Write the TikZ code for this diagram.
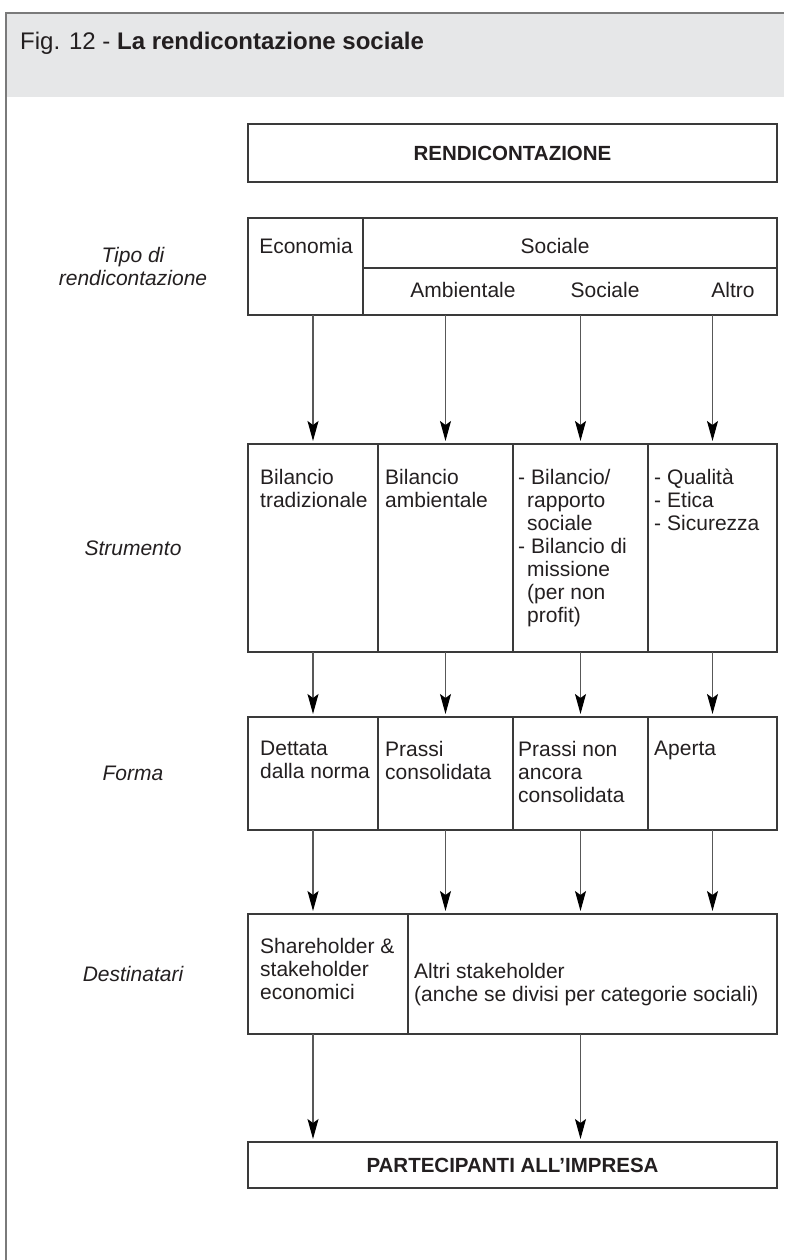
\documentclass[tikz,border=0pt]{standalone}
\usepackage{fontspec}
\setmainfont{Liberation Sans}
\usetikzlibrary{arrows.meta}
\definecolor{ink}{HTML}{231F20}
\definecolor{band}{HTML}{E6E7E8}
\definecolor{rule}{HTML}{3A3A3A}
\definecolor{framec}{HTML}{7A7A7A}
\newcommand{\fsz}{\fontsize{21}{23}\selectfont}
\newcommand{\dsh}[1]{\makebox[13pt][l]{-}#1}
\newcommand{\hng}{\hspace*{9pt}}

\begin{document}
\begin{tikzpicture}[x=1pt,y=-1pt,
  cell/.style={draw=rule, line width=1.3pt, anchor=north west, inner sep=0pt, outer sep=0pt},
  txt/.style={anchor=north west, inner sep=0pt, text=ink, font=\fsz, align=left},
  lab/.style={inner sep=0pt, text=ink, font=\fsz\itshape, align=center},
  arr/.style={draw=rule!85, line width=1.2pt, -{Stealth[length=20pt,width=11pt,inset=4pt,color=black]}, shorten >=3pt}]
\useasboundingbox (0,0) rectangle (784,1260);
\fill[band] (6,13) rectangle (784,97);
\draw[framec, line width=1.6pt] (6,1260) -- (6,13) -- (784,13);
\node[anchor=base west, inner sep=0pt, text=ink, font=\fontsize{24}{28}\selectfont] (title) at (20,50) {Fig. 12 - \textbf{La rendicontazione sociale}};

% boxes
\node[cell, minimum width=529pt, minimum height=58pt] (rend) at (248,124) {};
\node[cell, minimum width=115pt, minimum height=97pt] (eco) at (248,218) {};
\node[cell, minimum width=414pt, minimum height=50pt] (soc) at (363,218) {};
\node[cell, minimum width=414pt, minimum height=47pt] (sub) at (363,268) {};
\node[cell, minimum width=130pt, minimum height=208pt] (s1) at (248,444) {};
\node[cell, minimum width=135pt, minimum height=208pt] (s2) at (378,444) {};
\node[cell, minimum width=135pt, minimum height=208pt] (s3) at (513,444) {};
\node[cell, minimum width=129pt, minimum height=208pt] (s4) at (648,444) {};
\node[cell, minimum width=130pt, minimum height=113pt] (f1) at (248,717) {};
\node[cell, minimum width=135pt, minimum height=113pt] (f2) at (378,717) {};
\node[cell, minimum width=135pt, minimum height=113pt] (f3) at (513,717) {};
\node[cell, minimum width=129pt, minimum height=113pt] (f4) at (648,717) {};
\node[cell, minimum width=160pt, minimum height=120pt] (d1) at (248,914) {};
\node[cell, minimum width=369pt, minimum height=120pt] (d2) at (408,914) {};
\node[cell, minimum width=529pt, minimum height=46pt] (part) at (248,1142) {};

% texts
\node[txt, anchor=center, font=\fontsize{20.5}{23}\selectfont\bfseries] (rendt) at (rend.center) {RENDICONTAZIONE};
\node[txt, anchor=base] (ecot) at (306,253) {Economia};
\node[txt, anchor=base] (soct) at (555,253) {Sociale};
\node[txt, anchor=base] (ambt) at (463,297) {Ambientale};
\node[txt, anchor=base] (soc2t) at (605,297) {Sociale};
\node[txt, anchor=base] (altt) at (733,297) {Altro};
\node[txt] (s1t) at (260,469) {Bilancio\\tradizionale};
\node[txt] (s2t) at (385,469) {Bilancio\\ambientale};
\node[txt] (s3t) at (518,469) {\dsh{Bilancio/}\\\hng rapporto\\\hng sociale\\\dsh{Bilancio di}\\\hng missione\\\hng (per non\\\hng profit)};
\node[txt] (s4t) at (654,469) {\dsh{Qualità}\\\dsh{Etica}\\\dsh{Sicurezza}};
\node[txt] (f1t) at (260,741) {Dettata\\dalla norma};
\node[txt] (f2t) at (385,741) {Prassi\\consolidata};
\node[txt] (f3t) at (518,741) {Prassi non\\ancora\\consolidata};
\node[txt] (f4t) at (654,741) {Aperta};
\node[txt] (d1t) at (260,938) {Shareholder \&\\stakeholder\\economici};
\node[txt] (d2t) at (414,963) {Altri stakeholder\\(anche se divisi per categorie sociali)};
\node[txt, anchor=center, font=\fontsize{20.5}{23}\selectfont\bfseries] (partt) at (part.center) {PARTECIPANTI ALL’IMPRESA};

% row labels
\node[lab] (ltipo) at (133,0 |- eco.center) {Tipo di\\rendicontazione};
\node[lab] (lstr) at (133,0 |- s1.center) {Strumento};
\node[lab] (lfor) at (133,0 |- f1.center) {Forma};
\node[lab] (ldes) at (133,0 |- d1.center) {Destinatari};

% arrows
\draw[arr] (eco.south -| s1.north) -- (s1.north);
\foreach \i in {2,3,4}
  \draw[arr] (sub.south -| s\i.north) -- (s\i.north);
\foreach \i in {1,...,4}{
  \draw[arr] (s\i.south) -- (f\i.north);
  \draw[arr] (f\i.south) -- (f\i.south |- d1.north);
}
\draw[arr] (d1.south -| s1.north) -- (s1.north |- part.north);
\draw[arr] (d2.south -| s3.north) -- (s3.north |- part.north);
\end{tikzpicture}
\end{document}
